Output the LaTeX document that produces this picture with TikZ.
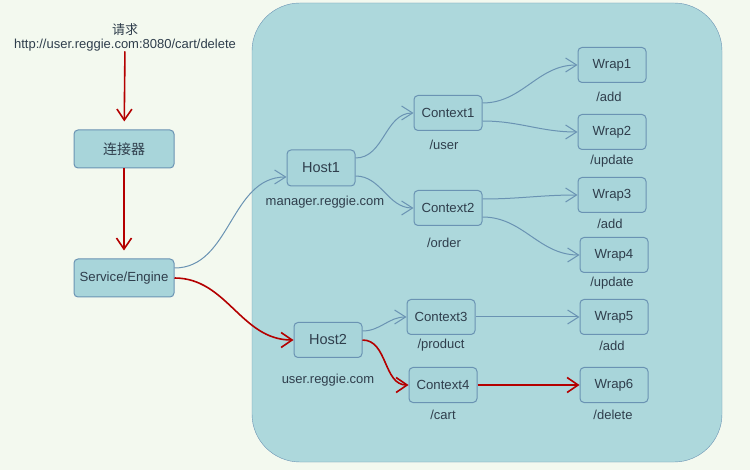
\documentclass[tikz,border=0pt]{standalone}
\usepackage{fontspec}
\setmainfont{Liberation Sans}
\newfontfamily\cjk{Noto Sans CJK SC}
\usetikzlibrary{arrows.meta}
\definecolor{bgcol}{HTML}{F3F9EF}
\definecolor{areafill}{HTML}{ADD8DC}
\definecolor{boxfill}{HTML}{A8D5DA}
\definecolor{boxline}{HTML}{6A93B3}
\definecolor{txt}{HTML}{2F3E4C}
\definecolor{reqred}{HTML}{B40000}

\begin{document}
\begin{tikzpicture}[x=1pt,y=-1pt,
  box/.style={draw=boxline,line width=1pt,fill=boxfill,rounded corners=4pt,minimum width=68pt,minimum height=35pt,inner sep=0pt,text=txt,font=\fontsize{13.2}{15}\selectfont},
  bigbox/.style={box,minimum width=100pt,minimum height=38pt},
  lbl/.style={text=txt,inner sep=0pt,font=\fontsize{13}{15}\selectfont},
  link/.style={draw=boxline,line width=1pt,-{Straight Barb[length=11pt,width=14pt]}},
  reqlink/.style={draw=reqred,line width=1.6pt,-{Straight Barb[length=11pt,width=15pt]}}]
\useasboundingbox[fill=bgcol] (0,0) rectangle (750,470);
\draw[draw=boxline,fill=areafill,rounded corners=48pt] (252,3) rectangle (722,462);

\node[lbl] (req) at (125,30) {\cjk 请求};
\node[lbl] (url) at (125,45) {http://user.reggie.com:8080/cart/delete};
\node[bigbox,font=\fontsize{14}{16}\selectfont] (conn) at (124,149) {\cjk 连接器};
\node[bigbox] (engine) at (124,278) {Service/Engine};

\node[box,font=\fontsize{14.5}{16}\selectfont,minimum height=36pt] (host1) at (321,168) {Host1};
\node[lbl] (host1lbl) at (325,202) {manager.reggie.com};
\node[box,font=\fontsize{14.5}{16}\selectfont] (host2) at (328,340) {Host2};
\node[lbl] (host2lbl) at (328,380) {user.reggie.com};

\node[box] (ctx1) at (448,113) {Context1};
\node[lbl] (ctx1lbl) at (444,145) {/user};
\node[box] (ctx2) at (448,208) {Context2};
\node[lbl] (ctx2lbl) at (444,243) {/order};
\node[box] (ctx3) at (441,317) {Context3};
\node[lbl] (ctx3lbl) at (441,345) {/product};
\node[box] (ctx4) at (443,385) {Context4};
\node[lbl] (ctx4lbl) at (443,415) {/cart};

\node[box] (wrap1) at (612,65) {Wrap1};
\node[lbl] (wrap1lbl) at (609,97) {/add};
\node[box] (wrap2) at (612,132) {Wrap2};
\node[lbl] (wrap2lbl) at (612,161) {/update};
\node[box] (wrap3) at (612,195) {Wrap3};
\node[lbl] (wrap3lbl) at (610,224) {/add};
\node[box] (wrap4) at (614,255) {Wrap4};
\node[lbl] (wrap4lbl) at (612,283) {/update};
\node[box] (wrap5) at (614,317) {Wrap5};
\node[lbl] (wrap5lbl) at (612,346) {/add};
\node[box] (wrap6) at (614,385) {Wrap6};
\node[lbl] (wrap6lbl) at (613,415) {/delete};

% request path
\draw[reqlink,shorten >=8pt] (url) -- (conn);
\draw[reqlink,shorten >=8pt] (conn) -- (engine);
\draw[reqlink] (engine.east) to[out=0,in=180] (host2.west);
\draw[reqlink] (host2.east) to[out=0,in=180] (ctx4.west);
\draw[reqlink] (ctx4) -- (wrap6);

% other mappings
\draw[link] ([yshift=10pt]engine.east) to[out=0,in=180] ([yshift=-9pt]host1.west);
\draw[link] ([yshift=10pt]host1.east) to[out=0,in=180] (ctx1.west);
\draw[link] ([yshift=-8pt]host1.east) to[out=0,in=180] (ctx2.west);
\draw[link] ([yshift=9pt]host2.east) to[out=0,in=180] (ctx3.west);
\draw[link] ([yshift=10pt]ctx1.east) to[out=0,in=180] (wrap1.west);
\draw[link] ([yshift=-8pt]ctx1.east) to[out=0,in=180] (wrap2.west);
\draw[link] ([yshift=9pt]ctx2.east) to[out=0,in=180] (wrap3.west);
\draw[link] ([yshift=-9pt]ctx2.east) to[out=0,in=180] (wrap4.west);
\draw[link] (ctx3) -- (wrap5);
\end{tikzpicture}
\end{document}
